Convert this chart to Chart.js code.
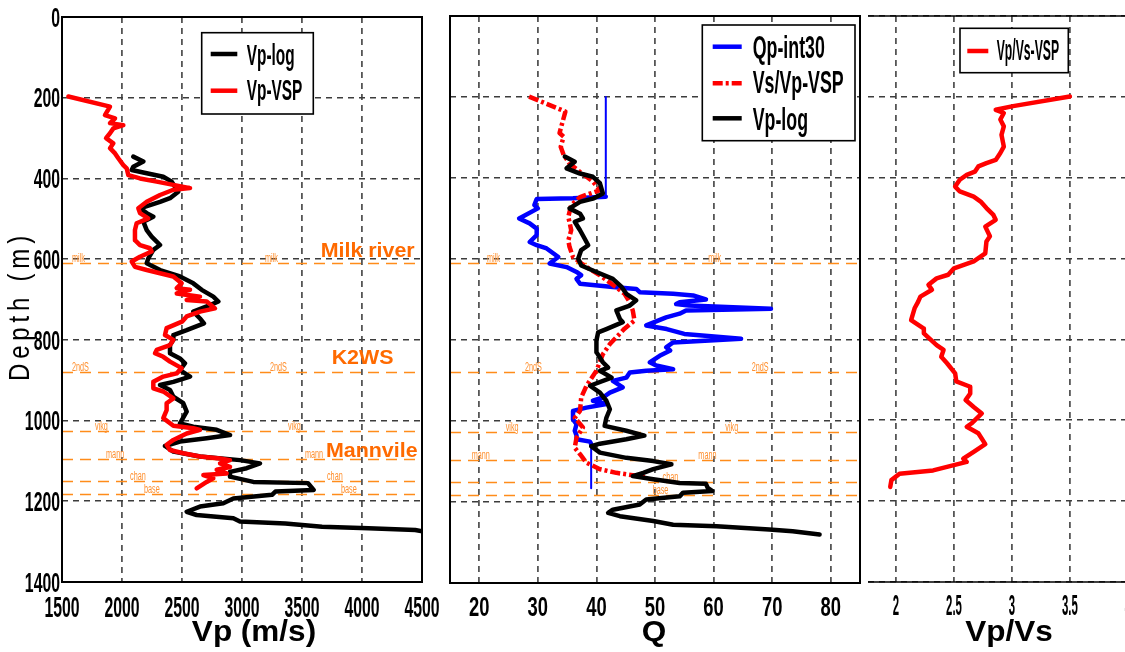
<!DOCTYPE html>
<html>
<head>
<meta charset="utf-8">
<script src="https://cdn.jsdelivr.net/npm/chart.js@4.4.1/dist/chart.umd.min.js"></script>
<style>
  html, body { margin: 0; padding: 0; background: #fff; overflow: hidden; width: 1125px; height: 652px; }
  canvas { position: absolute; top: 0; }
</style>
</head>
<body>
<canvas id="vpChart" width="440" height="652" style="left:0"></canvas>
<canvas id="qChart" width="425" height="652" style="left:440px"></canvas>
<canvas id="ratioChart" width="300" height="652" style="left:862px"></canvas>
<script>
// ---- tick labels ----
const depthTicks = [0, 200, 400, 600, 800, 1000, 1200, 1400];
const vpTicks = [1500, 2000, 2500, 3000, 3500, 4000, 4500];
const qTicks = [20, 30, 40, 50, 60, 70, 80];
const ratioTicks = [2, 2.5, 3, 3.5, 4];

// ---- formation tops (m) ----
const formationNames = ['milk', '2ndS', 'vikg', 'mann', 'chan', 'base'];
const formationDepths = [610, 879, 1027, 1096, 1150, 1182];
const zoneNames = ['Milk river', 'K2WS', 'Mannvile'];
const zoneDepths = [594, 861, 1091];

// ---- panel 1: Vp ----
const vspDepth = [197, 222, 243, 251, 263, 268, 276, 288, 300, 313, 325, 338, 350, 367, 375, 392, 400, 408, 416, 424,
  428, 441, 458, 474, 486, 499, 511, 528, 553, 565, 573, 581, 594, 606, 619, 627, 635, 643, 660, 672,
  676, 685, 693, 701, 705, 722, 730, 742, 755, 771, 788, 800, 813, 825, 833, 842, 854, 870, 883, 891,
  904, 920, 928, 945, 957, 974, 994, 1013, 1019, 1023, 1032, 1040, 1048, 1060, 1073, 1081, 1089, 1094, 1098, 1106,
  1115, 1122, 1131, 1135, 1143, 1152, 1168];
const vpVsp = [1553, 1900, 1858, 1942, 1900, 2011, 1928, 1900, 1867, 1928, 1900, 1942, 1969, 2011, 2039, 2053, 2150, 2289, 2428, 2567,
  2428, 2317, 2206, 2136, 2150, 2219, 2122, 2108, 2108, 2150, 2233, 2247, 2150, 2081, 2108, 2206, 2317, 2428, 2497, 2456,
  2567, 2456, 2650, 2539, 2706, 2775, 2650, 2539, 2500, 2372, 2358, 2428, 2400, 2289, 2275, 2344, 2400, 2497, 2456, 2344,
  2261, 2261, 2344, 2428, 2372, 2372, 2344, 2428, 2594, 2650, 2539, 2483, 2428, 2372, 2400, 2511, 2650, 2817, 2900, 2817,
  2900, 2789, 2872, 2678, 2761, 2706, 2622];

const logDepth = [346, 358, 371, 379, 387, 396, 408, 433, 449, 458, 474, 486, 495, 507, 528, 544, 565, 577, 598, 610,
  627, 643, 660, 676, 693, 705, 714, 730, 747, 759, 776, 788, 800, 813, 833, 846, 858, 875, 891, 904,
  912, 924, 941, 957, 978, 1007, 1015, 1023, 1036, 1044, 1052, 1063, 1077, 1089, 1098, 1106, 1118, 1127, 1139, 1152,
  1155, 1172, 1176, 1184, 1193, 1205, 1213, 1226, 1234, 1242, 1250, 1255, 1263, 1267, 1271, 1275];
const vpLog = [2094, 2178, 2094, 2081, 2206, 2344, 2414, 2469, 2400, 2317, 2150, 2206, 2261, 2178, 2206, 2247, 2317, 2261, 2219, 2206,
  2317, 2483, 2594, 2664, 2761, 2803, 2733, 2594, 2650, 2683, 2539, 2428, 2428, 2400, 2400, 2483, 2525, 2483, 2567, 2428,
  2317, 2400, 2428, 2511, 2539, 2483, 2594, 2789, 2900, 2706, 2483, 2358, 2428, 2650, 2983, 3150, 3039, 2900, 2900, 3094,
  3550, 3597, 3278, 3250, 2928, 2844, 2650, 2539, 2622, 2928, 2983, 3361, 3667, 4053, 4444, 4514];

// ---- panel 2: Q ----
const qpDepth = [200, 446, 450, 452, 467, 475, 500, 512, 525, 541, 558, 566, 574, 595, 611, 620, 632, 640, 649, 661,
  669, 674, 682, 686, 690, 700, 707, 711, 715, 723, 727, 735, 744, 764, 773, 785, 797, 806, 818, 826,
  839, 855, 863, 872, 876, 880, 893, 901, 917, 930, 942, 950, 958, 967, 975, 996, 1008, 1024, 1036, 1045,
  1051, 1057, 1166];
const qpInt30 = [41.6, 41.6, 36.0, 29.8, 29.4, 30.0, 26.8, 28.6, 29.8, 29.8, 28.6, 29.8, 31.5, 33.5, 32.0, 34.9, 36.6, 37.4, 36.6, 37.2,
  42.8, 46.8, 47.4, 53.1, 56.5, 58.7, 54.2, 53.6, 55.8, 69.8, 55.3, 54.2, 51.9, 48.5, 52.0, 55.0, 64.7, 53.1, 51.9, 52.6,
  50.8, 49.1, 50.2, 53.1, 48.5, 45.7, 45.1, 42.8, 44.5, 42.3, 41.1, 39.4, 41.7, 38.3, 36.0, 36.0, 36.6, 36.3, 36.6, 36.6,
  38.9, 39.1, 39.1];

const vsvpDepth = [199, 236, 289, 298, 323, 343, 364, 385, 409, 430, 447, 467, 496, 529, 554, 570, 595, 620, 640, 670,
  686, 707, 727, 752, 772, 810, 835, 876, 913, 942, 975, 992, 1016, 1041, 1066, 1082, 1103, 1119, 1128, 1134, 1139];
const vsvpVsp = [28.5, 34.7, 33.7, 34.4, 33.9, 34.4, 35.4, 37.2, 39.4, 40.6, 37.2, 35.7, 35.2, 35.7, 35.2, 35.4, 36.0, 38.3, 40.6, 43.4,
  44.8, 45.7, 46.2, 46.5, 44.8, 42.3, 41.1, 40.0, 38.3, 37.4, 37.2, 36.3, 37.7, 36.6, 36.3, 37.2, 38.3, 40.6, 43.4, 46.2, 48.5];

const logQDepth = [347, 360, 376, 389, 397, 413, 438, 451, 459, 475, 488, 500, 508, 529, 550, 566, 578, 599, 616, 632,
  649, 669, 686, 702, 715, 727, 748, 756, 773, 781, 801, 830, 855, 868, 876, 893, 913, 930, 950, 971,
  992, 1012, 1024, 1036, 1045, 1056, 1062, 1078, 1091, 1099, 1107, 1119, 1128, 1136, 1144, 1153, 1155, 1165, 1173, 1177,
  1186, 1194, 1206, 1219, 1227, 1235, 1247, 1256, 1260, 1268, 1272, 1280];
const vpLogQ = [34.6, 36.3, 34.9, 37.2, 39.4, 40.6, 41.1, 39.4, 37.2, 35.4, 37.2, 37.7, 36.3, 37.2, 38.0, 38.6, 37.4, 36.9, 37.4, 40.0,
  42.8, 44.3, 45.1, 46.8, 45.7, 43.4, 44.0, 44.5, 41.7, 40.3, 40.0, 40.0, 41.1, 42.0, 40.6, 42.6, 38.9, 40.6, 41.7, 42.3,
  41.7, 41.4, 45.1, 48.2, 45.1, 40.6, 39.1, 40.6, 45.1, 49.7, 52.8, 49.7, 48.0, 46.2, 49.7, 54.2, 58.7, 59.0, 59.8, 54.8,
  54.2, 48.5, 47.4, 42.8, 42.0, 44.0, 49.7, 53.1, 60.5, 69.5, 73.5, 78.1];

// ---- panel 3: Vp/Vs ----
const ratioDepth = [199, 223, 232, 240, 256, 273, 294, 323, 339, 356, 364, 372, 385, 393, 405, 422, 434, 447, 459, 475,
  492, 504, 521, 545, 558, 587, 607, 624, 640, 649, 665, 677, 694, 707, 723, 752, 773, 785, 814, 826,
  843, 859, 884, 904, 917, 934, 950, 967, 983, 1008, 1016, 1032, 1059, 1078, 1095, 1103, 1124, 1132, 1148, 1165];
const vpvsVsp = [3.50, 3.01, 2.86, 2.93, 2.90, 2.93, 2.91, 2.93, 2.90, 2.86, 2.78, 2.71, 2.68, 2.61, 2.55, 2.51, 2.55, 2.67, 2.73, 2.78,
  2.84, 2.86, 2.77, 2.81, 2.78, 2.77, 2.67, 2.50, 2.45, 2.35, 2.28, 2.31, 2.21, 2.19, 2.16, 2.13, 2.24, 2.24, 2.35, 2.41,
  2.39, 2.44, 2.51, 2.52, 2.64, 2.64, 2.60, 2.67, 2.74, 2.65, 2.61, 2.71, 2.77, 2.67, 2.58, 2.61, 2.32, 2.03, 1.96, 1.95];

const pts = (xs, ds) => xs.map((x, i) => ({ x, y: ds[i] }));

const BOLD = '"Liberation Sans", Arial, sans-serif';
const ORANGE = '#ff6a00';
const ORANGE_LINE = '#ff8c1a';
const ORANGE_LABEL = '#ff9030';

function stretchText(ctx, text, x, y, font, sx, sy, align, color) {
  ctx.save();
  ctx.translate(x, y);
  ctx.scale(sx, sy);
  ctx.font = font;
  ctx.textAlign = align;
  ctx.textBaseline = 'alphabetic';
  ctx.fillStyle = color || '#000';
  ctx.fillText(text, 0, 0);
  ctx.restore();
}

function makeDecor(cfg) {
  return {
    id: 'decor',
    beforeDatasetsDraw(chart) {
      if (!cfg.formationX) return;
      const { ctx, chartArea: a, scales: { x, y } } = chart;
      ctx.save();
      ctx.strokeStyle = ORANGE_LINE;
      ctx.lineWidth = 1.5;
      ctx.setLineDash([11, 7]);
      formationDepths.forEach((d, i) => {
        const py = Math.round(y.getPixelForValue(d)) + 0.5;
        ctx.beginPath();
        ctx.moveTo(a.left, py);
        ctx.lineTo(a.right, py);
        ctx.stroke();
        cfg.formationX[i].forEach(v => {
          stretchText(ctx, formationNames[i], x.getPixelForValue(v), py - 1.5,
            '11px "Liberation Sans", Arial, sans-serif', 0.66, 1.15, 'left', ORANGE_LABEL);
        });
      });
      ctx.restore();
    },
    afterDraw(chart) {
      const { ctx, chartArea: a, scales: { x, y } } = chart;
      ctx.save();
      // frame
      ctx.strokeStyle = '#000';
      ctx.setLineDash([]);
      if (cfg.frame === 'box') {
        ctx.lineWidth = 2;
        ctx.strokeRect(a.left, a.top, a.right - a.left, a.bottom - a.top);
      } else {
        ctx.lineWidth = 1.5;
        ctx.beginPath();
        ctx.moveTo(a.left, a.top); ctx.lineTo(a.right, a.top);
        ctx.moveTo(a.left, a.bottom); ctx.lineTo(a.right, a.bottom);
        ctx.stroke();
      }
      // zone names
      if (cfg.zoneX) {
        zoneNames.forEach((t, i) => {
          stretchText(ctx, t, x.getPixelForValue(cfg.zoneX[i]), y.getPixelForValue(zoneDepths[i]),
            'bold 20px ' + BOLD, 1.07, 1, 'left', ORANGE);
        });
      }
      // x tick labels
      const tk = cfg.xTick;
      cfg.xTicks.forEach(v => {
        stretchText(ctx, String(v), x.getPixelForValue(v), tk.base, 'bold 20px ' + BOLD, tk.sx, tk.sy, 'center');
      });
      // y tick labels
      if (cfg.yTick) {
        const yt = cfg.yTick;
        depthTicks.forEach(v => {
          stretchText(ctx, String(v), yt.right, y.getPixelForValue(v) + yt.shift, 'bold 20px ' + BOLD, yt.sx, yt.sy, 'right');
        });
        ctx.save();
        ctx.translate(21, 306);
        ctx.rotate(-Math.PI / 2);
        ctx.scale(0.8, 1);
        ctx.font = '30px ' + BOLD;
        ctx.letterSpacing = '6px';
        ctx.textAlign = 'center';
        ctx.textBaseline = 'middle';
        ctx.fillStyle = '#000';
        ctx.fillText('Depth (m)', 0, 0);
        ctx.restore();
      }
      // axis title
      stretchText(ctx, cfg.title, cfg.titleX, 641, 'bold 30px ' + BOLD, 1.05, 1, 'center');
      // legend
      const lg = cfg.legend;
      ctx.fillStyle = '#fff';
      ctx.fillRect(lg.box[0], lg.box[1], lg.box[2] - lg.box[0], lg.box[3] - lg.box[1]);
      ctx.lineWidth = 1.6;
      ctx.strokeStyle = '#000';
      ctx.strokeRect(lg.box[0], lg.box[1], lg.box[2] - lg.box[0], lg.box[3] - lg.box[1]);
      lg.items.forEach(it => {
        const ds = chart.data.datasets[it.index];
        ctx.save();
        ctx.strokeStyle = ds.borderColor;
        ctx.lineWidth = 4.5;
        ctx.lineCap = 'butt';
        ctx.setLineDash(ds.borderDash || []);
        ctx.beginPath();
        ctx.moveTo(lg.sample[0], it.lineY);
        ctx.lineTo(lg.sample[1], it.lineY);
        ctx.stroke();
        ctx.restore();
        stretchText(ctx, ds.label, lg.textX, it.base, 'bold 20px ' + BOLD, lg.sx, lg.sy, 'left');
      });
      ctx.restore();
    }
  };
}

function depthAxis() {
  return {
    type: 'linear', reverse: true, min: 0, max: 1400,
    afterBuildTicks: s => { s.ticks = depthTicks.map(v => ({ value: v })); },
    ticks: { display: false },
    grid: { color: '#3c3c3c', lineWidth: 1.6, drawTicks: false },
    border: { display: false, dash: [6, 5] }
  };
}

function valueAxis(min, max, ticks) {
  return {
    type: 'linear', position: 'bottom', min, max,
    afterBuildTicks: s => { s.ticks = ticks.map(v => ({ value: v })); },
    ticks: { display: false },
    grid: { color: '#555', lineWidth: 1.8, drawTicks: false },
    border: { display: false, dash: [6, 5] }
  };
}

function line(label, data, color, extra) {
  return Object.assign({
    label, data, borderColor: color, borderWidth: 4.5, pointRadius: 0, showLine: true,
    borderJoinStyle: 'round', borderCapStyle: 'round'
  }, extra || {});
}

function baseOptions(padding, xAxis) {
  return {
    responsive: false, animation: false, devicePixelRatio: 1,
    layout: { padding },
    scales: { x: xAxis, y: depthAxis() },
    plugins: { legend: { display: false }, tooltip: { enabled: false } }
  };
}

// panel 1
new Chart(document.getElementById('vpChart'), {
  type: 'scatter',
  data: {
    datasets: [
      line('Vp-log', pts(vpLog, logDepth), '#000000', { order: 1 }),
      line('Vp-VSP', pts(vpVsp, vspDepth), '#ff0000', { order: 0 })
    ]
  },
  options: baseOptions({ left: 62, right: 18, top: 17, bottom: 70 }, valueAxis(1500, 4500, vpTicks)),
  plugins: [makeDecor({
    frame: 'box',
    formationX: [[1583, 3192], [1583, 3233], [1775, 3383], [1867, 3525], [2067, 3708], [2183, 3825]],
    zoneX: [3656, 3747, 3700],
    xTicks: vpTicks, xTick: { base: 617, sx: 0.79, sy: 1.5 },
    yTick: { right: 60, shift: 9.7, sx: 0.79, sy: 1.35 },
    title: 'Vp (m/s)', titleX: 254,
    legend: {
      box: [201.7, 32.7, 313.3, 114], sample: [210.7, 237.3], textX: 246.7, sx: 0.77, sy: 1.5,
      items: [{ index: 0, lineY: 54, base: 65 }, { index: 1, lineY: 90.7, base: 100 }]
    }
  })]
});

// panel 2
new Chart(document.getElementById('qChart'), {
  type: 'scatter',
  data: {
    datasets: [
      line('Qp-int30', pts(qpInt30, qpDepth), '#0000ff', {
        order: 2,
        segment: { borderWidth: c => (c.p0DataIndex === 0 || c.p1DataIndex === qpInt30.length - 1) ? 2 : 4.5 }
      }),
      line('Vs/Vp-VSP', pts(vsvpVsp, vsvpDepth), '#ff0000', { order: 1, borderDash: [10, 3, 3, 3], borderCapStyle: 'butt' }),
      line('Vp-log', pts(vpLogQ, logQDepth), '#000000', { order: 0 })
    ]
  },
  options: baseOptions({ left: 10, right: 5, top: 16, bottom: 69 }, valueAxis(15, 85, qTicks)),
  plugins: [makeDecor({
    frame: 'box',
    formationX: [[21.3, 59.1], [27.8, 66.5], [24.5, 62.0], [18.7, 57.4], [51.3], [49.6]],
    xTicks: qTicks, xTick: { base: 616, sx: 0.92, sy: 1.4 },
    title: 'Q', titleX: 214,
    legend: {
      box: [262.3, 25, 415, 140.7], sample: [272.7, 301.7], textX: 312.7, sx: 0.89, sy: 1.6,
      items: [{ index: 0, lineY: 46.7, base: 58.3 }, { index: 1, lineY: 83.3, base: 93.3 }, { index: 2, lineY: 118.3, base: 130 }]
    }
  })]
});

// panel 3
new Chart(document.getElementById('ratioChart'), {
  type: 'scatter',
  data: {
    datasets: [line('Vp/Vs-VSP', pts(vpvsVsp, ratioDepth), '#ff0000')]
  },
  options: baseOptions({ left: 6, right: 11, top: 16, bottom: 70 }, valueAxis(1.758, 4.2, ratioTicks)),
  plugins: [makeDecor({
    frame: 'lines',
    xTicks: ratioTicks, xTick: { base: 615, sx: 0.57, sy: 1.5 },
    title: 'Vp/Vs', titleX: 147,
    legend: {
      box: [98, 28.3, 206.3, 72.7], sample: [105.3, 126.3], textX: 134.7, sx: 0.61, sy: 1.47,
      items: [{ index: 0, lineY: 51, base: 60 }]
    }
  })]
});
</script>
</body>
</html>
